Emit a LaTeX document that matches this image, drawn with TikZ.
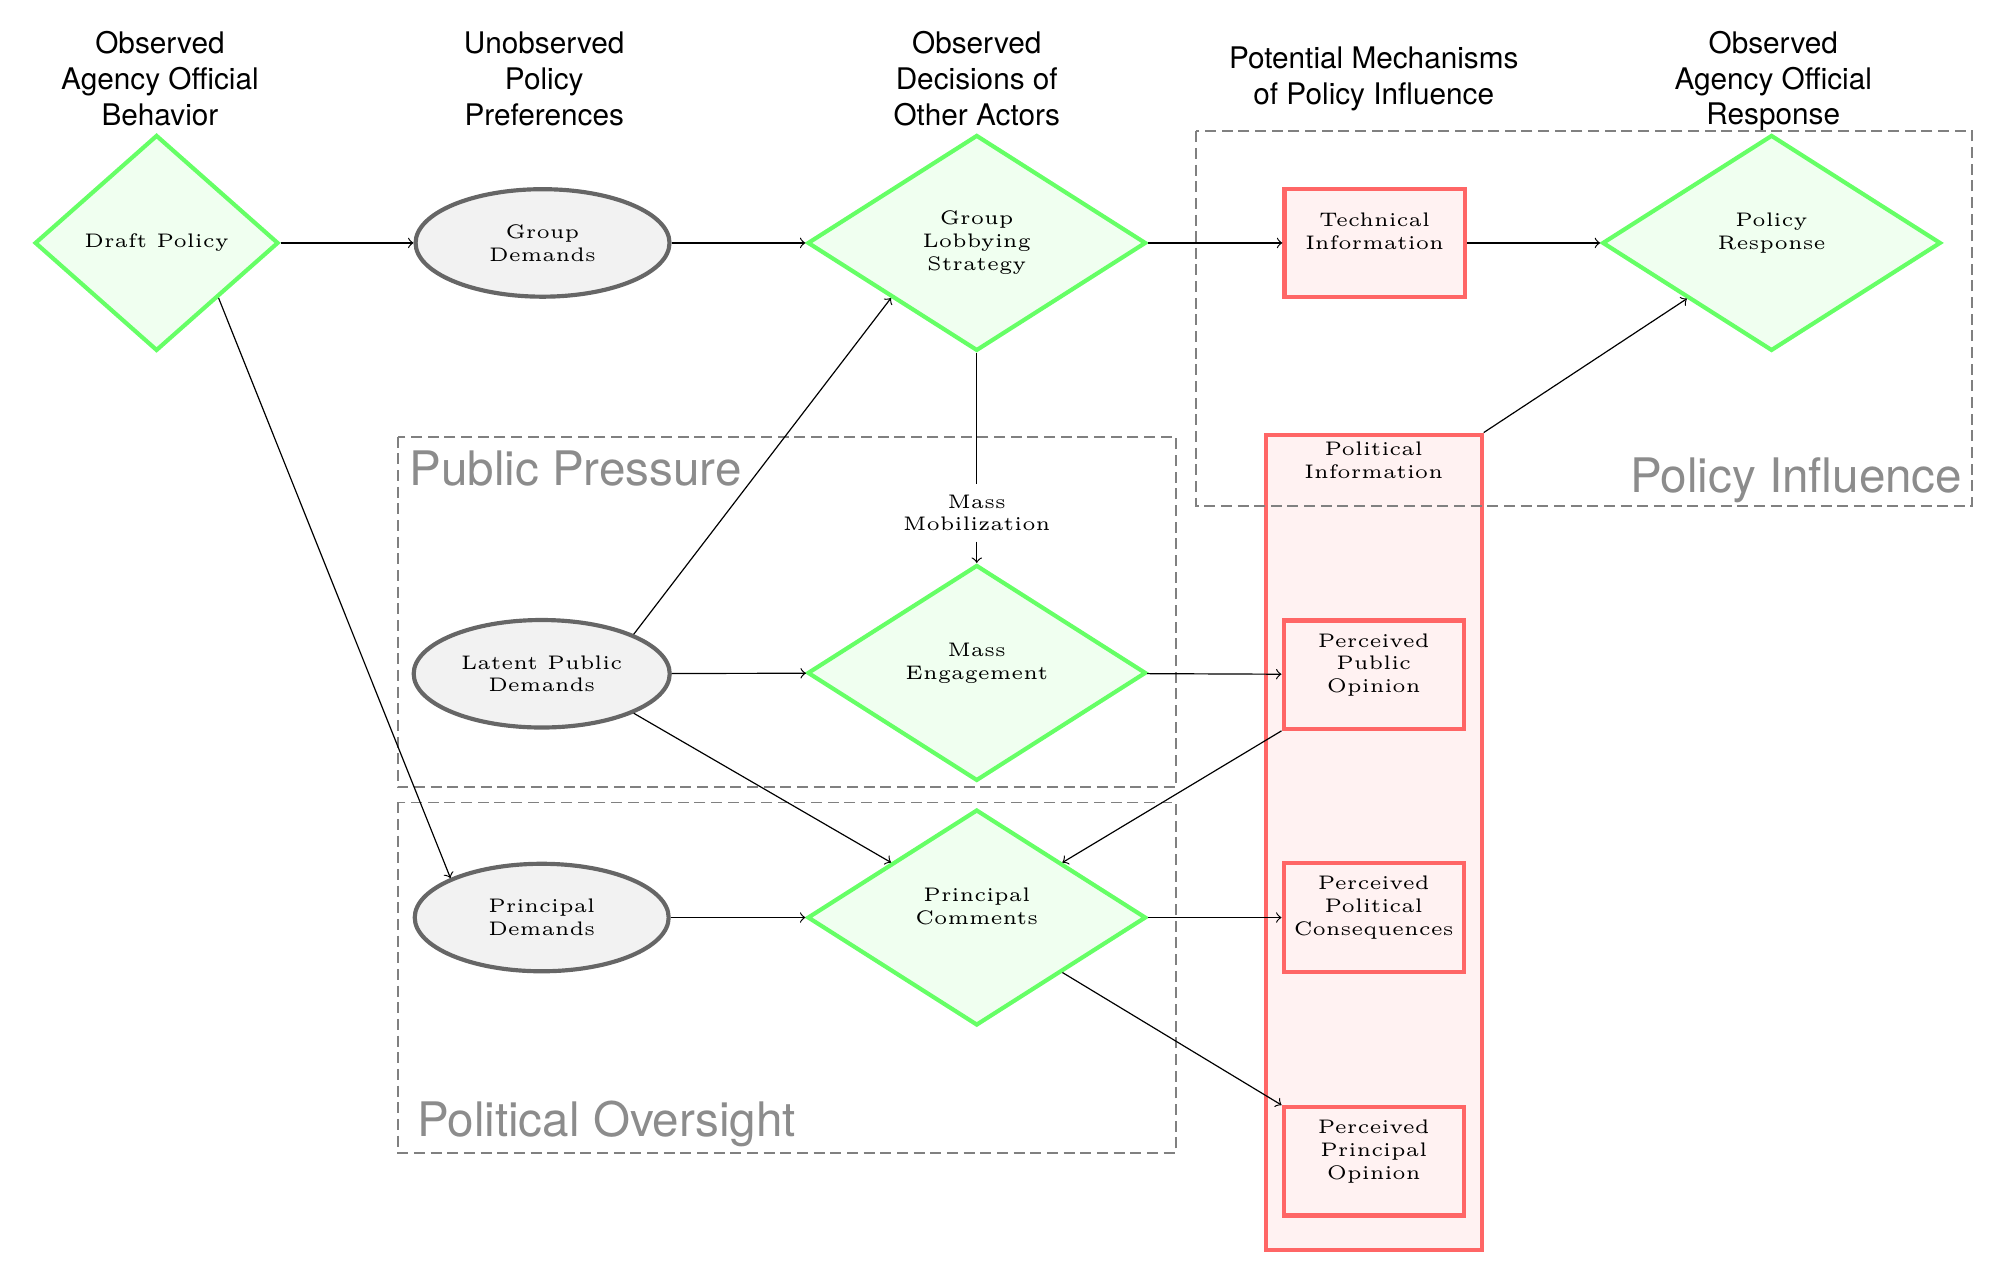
\documentclass[tikz,border=0pt]{standalone}
\usepackage{fontspec}
\newfontfamily\hdrfont{TeX Gyre Heros}
\newfontfamily\nodefont{lmroman5-regular}[Extension=.otf]
\newcommand\nodesize{\nodefont\fontsize{6.6}{7.7}\selectfont}
\usetikzlibrary{shapes.geometric}

\begin{document}
\begin{tikzpicture}[>=to,
    choice/.style={diamond, draw=green!60, fill=green!6, line width=1.4pt, aspect=1.57, minimum width=4cm, minimum height=2.55cm, inner sep=1pt, align=center, font=\nodesize},
    pref/.style={ellipse, draw=black!60, fill=black!5, line width=1.4pt, minimum width=3cm, minimum height=1.27cm, align=center, font=\nodesize},
    mech/.style={rectangle, draw=red!60, fill=red!5, line width=1.4pt, minimum width=2.13cm, minimum height=1.28cm, align=center, font=\nodesize},
    region/.style={draw=black!50, semithick, dash pattern=on 3.7pt off 1.9pt},
    regionlbl/.style={text=black!45, font=\hdrfont\fontsize{16}{19}\selectfont, inner sep=0pt},
    hdr/.style={align=center, font=\hdrfont}]

        \useasboundingbox (0,0) rectangle (23.57,-15.14);

        % Column headings
        \node[hdr] (h1) at (1.89,-0.93) {Observed\\Agency Official\\Behavior};
        \node[hdr] (h2) at (6.43,-0.93) {Unobserved\\Policy\\Preferences};
        \node[hdr] (h3) at (11.54,-0.93) {Observed\\Decisions of\\Other Actors};
        \node[hdr] (h4) at (16.23,-0.93) {Potential Mechanisms\\of Policy Influence};
        \node[hdr] (h5) at (20.95,-0.96) {Observed\\Agency Official\\Response};

        % Political information column
        \node[mech, minimum width=2.55cm, minimum height=9.63cm,
              label={[anchor=north, align=center, font=\nodesize, yshift=0.5pt]north:Political\\Information}] (pinfo) at (16.23,-9.95) {};

        % Agency behavior
        \node[choice, aspect=1.14, minimum width=2.88cm] (draft) at (1.85,-2.87) {Draft Policy};
        \node[choice] (resp) at (20.93,-2.87) {Policy\\Response\\\mbox{}};

        % Preferences
        \node[pref] (gdem) at (6.41,-2.87) {Group\\Demands};
        \node[pref] (latent) at (6.40,-7.96) {Latent Public\\Demands};
        \node[pref] (pdem) at (6.40,-10.84) {Principal\\Demands};

        % Decisions of other actors
        \node[choice] (lobby) at (11.54,-2.87) {Group\\Lobbying\\Strategy};
        \node[choice] (mass) at (11.54,-7.95) {Mass\\Engagement\\\mbox{}};
        \node[choice] (pcom) at (11.54,-10.84) {Principal\\Comments\\\mbox{}};
        \node[font=\nodesize, align=center] (mobil) at (11.54,-6.06) {Mass\\Mobilization};

        % Mechanisms
        \node[mech] (tech) at (16.24,-2.87) {Technical\\Information\\\mbox{}};
        \node[mech] (ppub) at (16.23,-7.97) {Perceived\\Public\\Opinion\\\mbox{}};
        \node[mech] (pcons) at (16.23,-10.84) {Perceived\\Political\\Consequences\\\mbox{}};
        \node[mech] (pprin) at (16.23,-13.72) {Perceived\\Principal\\Opinion\\\mbox{}};

        % Dashed regions
        \draw[region] (14.13,-1.55) rectangle (23.30,-5.98);
        \draw[region] (4.70,-5.16) rectangle (13.89,-9.30);
        \draw[region] (4.70,-9.48) rectangle (13.89,-13.62);
        \node[regionlbl, anchor=base east] (lblinf) at (23.19,-5.82) {Policy Influence};
        \node[regionlbl, anchor=base west] (lblpub) at (4.83,-5.73) {Public Pressure};
        \node[regionlbl, anchor=base west] (lblpol) at (4.92,-13.43) {Political Oversight};

        % Arrows
        \draw[->] (draft) -- (gdem);
        \draw[->] (gdem) -- (lobby);
        \draw[->] (lobby) -- (tech);
        \draw[->] (tech) -- (resp);
        \draw[->] (pinfo.north east) -- (resp);
        \draw[->] (draft.south east) -- (pdem.north west);
        \draw[->] (latent.north east) -- (lobby.south west);
        \draw[->] (latent) -- (mass);
        \draw[->] (latent.south east) -- (pcom.north west);
        \draw (lobby) -- (mobil);
        \draw[->] (mobil) -- (mass);
        \draw[->] (mass) -- (ppub);
        \draw[->] (ppub.south west) -- (pcom.north east);
        \draw[->] (pdem) -- (pcom);
        \draw[->] (pcom) -- (pcons);
        \draw[->] (pcom.south east) -- (pprin.north west);

\end{tikzpicture}
\end{document}
